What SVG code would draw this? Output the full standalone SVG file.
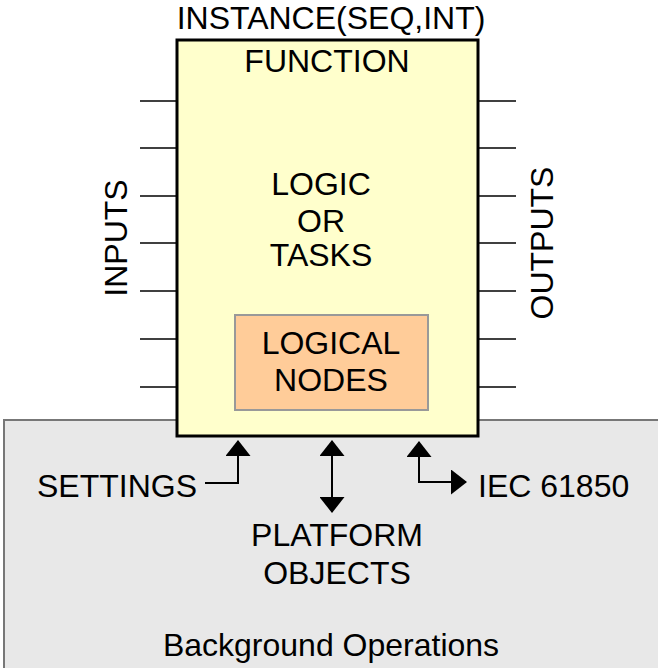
<svg xmlns="http://www.w3.org/2000/svg" width="658" height="668" viewBox="0 0 658 668">
  <style>
    text { font-family: "Liberation Sans", Arial, sans-serif; font-size: 32px; fill: #000; }
    .mid { text-anchor: middle; }
    .pin { stroke: #000; stroke-width: 1.5; fill: none; }
    .conn { stroke: #000; stroke-width: 2; fill: none; }
  </style>
  <defs>
    <marker id="arrow" viewBox="0 0 16 25" refX="15" refY="12.5" markerWidth="16" markerHeight="25" markerUnits="userSpaceOnUse" orient="auto-start-reverse">
      <path d="M0,0 L16,12.5 L0,25 Z" fill="#000"/>
    </marker>
  </defs>

  <rect width="658" height="668" fill="#fff"/>

  <!-- background operations area -->
  <g id="background">
    <rect x="4" y="420" width="660" height="260" fill="#e8e8e8" stroke="#777" stroke-width="2"/>
    <text class="mid" x="331" y="656">Background Operations</text>
  </g>

  <!-- function block with input/output pins -->
  <g id="function">
    <g class="pin">
      <line x1="140" y1="101" x2="176" y2="101"/>
      <line x1="140" y1="148" x2="176" y2="148"/>
      <line x1="140" y1="196" x2="176" y2="196"/>
      <line x1="140" y1="243" x2="176" y2="243"/>
      <line x1="140" y1="291" x2="176" y2="291"/>
      <line x1="140" y1="339" x2="176" y2="339"/>
      <line x1="140" y1="387" x2="176" y2="387"/>
      <line x1="478" y1="101" x2="516" y2="101"/>
      <line x1="478" y1="148" x2="516" y2="148"/>
      <line x1="478" y1="196" x2="516" y2="196"/>
      <line x1="478" y1="243" x2="516" y2="243"/>
      <line x1="478" y1="291" x2="516" y2="291"/>
      <line x1="478" y1="339" x2="516" y2="339"/>
      <line x1="478" y1="387" x2="516" y2="387"/>
    </g>
    <rect x="177" y="40" width="301" height="396" fill="#ffffcc" stroke="#000" stroke-width="3"/>
    <text class="mid" x="331" y="29">INSTANCE(SEQ,INT)</text>
    <text class="mid" x="327" y="72">FUNCTION</text>
    <text class="mid" x="321" y="195">LOGIC</text>
    <text class="mid" x="321" y="232">OR</text>
    <text class="mid" x="321" y="266">TASKS</text>
    <text class="mid" transform="translate(127,238) rotate(-90)">INPUTS</text>
    <text class="mid" transform="translate(553,243) rotate(-90)">OUTPUTS</text>
  </g>

  <!-- logical nodes inside the function -->
  <g id="logical-nodes">
    <rect x="235" y="315" width="193" height="95" fill="#ffcc99" stroke="#999" stroke-width="2"/>
    <text class="mid" x="331" y="354">LOGICAL</text>
    <text class="mid" x="331" y="391">NODES</text>
  </g>

  <g id="settings">
    <text x="37" y="497">SETTINGS</text>
  </g>
  <g id="platform-objects">
    <text class="mid" x="337" y="546">PLATFORM</text>
    <text class="mid" x="337" y="584">OBJECTS</text>
  </g>
  <g id="iec61850">
    <text x="478" y="497">IEC 61850</text>
  </g>

  <!-- connectors -->
  <g id="connectors">
    <polyline class="conn" points="205,483 238,483 238,441" marker-end="url(#arrow)"/>
    <line class="conn" x1="332" y1="441" x2="332" y2="512" marker-start="url(#arrow)" marker-end="url(#arrow)"/>
    <polyline class="conn" points="419,442 419,482 466,482" marker-start="url(#arrow)" marker-end="url(#arrow)"/>
  </g>
</svg>
